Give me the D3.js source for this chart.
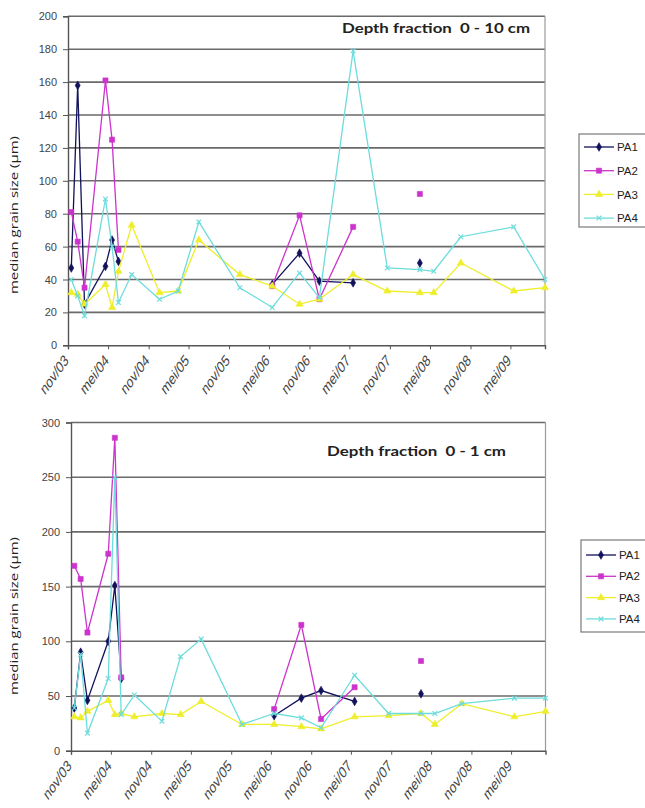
<!DOCTYPE html>
<html>
<head>
<meta charset="utf-8">
<script src="https://cdn.jsdelivr.net/npm/d3@7/dist/d3.min.js"></script>
<style>
  html, body { margin: 0; padding: 0; background: #fff; }
  svg { display: block; }
</style>
</head>
<body>
<svg id="chart" width="645" height="808"></svg>
<script>
// ---------------- DATA ----------------
const sampleDates = ["2003-11-16","2003-12-15","2004-01-15","2004-04-19","2004-05-19","2004-06-17",
  "2004-08-16","2004-12-20","2005-03-15","2005-06-17","2005-12-20","2006-05-16","2006-09-17",
  "2006-12-16","2007-05-18","2007-10-20","2008-03-16","2008-05-18","2008-09-18","2009-05-16","2009-10-05"];

const seriesNames = ["PA1", "PA2", "PA3", "PA4"];

// Depth fraction 0 - 10 cm
const PA1_10 = [47,158,25,48,64,51,null,null,null,null,null,37,56,39,38,null,50,null,null,null,null];
const PA2_10 = [81,63,35,161,125,58,null,null,null,null,null,36,79,28,72,null,92,null,null,null,null];
const PA3_10 = [32,31,25,37,23,45,73,32,33,64,43,36,25,28,43,33,32,32,50,33,35];
const PA4_10 = [40,30,18,89,60,26,43,28,33,75,35,23,44,29,179,47,46,45,66,72,40];

// Depth fraction 0 - 1 cm
const PA1_1 = [39,90,46,100,151,66,null,null,null,null,null,32,48,55,45,null,52,null,null,null,null];
const PA2_1 = [169,157,108,180,286,67,null,null,null,null,null,38,115,29,58,null,82,null,null,null,null];
const PA3_1 = [31,30,36,46,33,34,31,34,33,45,24,24,22,20,31,32,34,24,43,31,36];
const PA4_1 = [39,88,16,66,250,33,51,27,86,102,24,34,30,21,69,34,34,34,43,48,48];

const xTickDates = ["2003-11-01","2004-05-01","2004-11-01","2005-05-01","2005-11-01","2006-05-01",
  "2006-11-01","2007-05-01","2007-11-01","2008-05-01","2008-11-01","2009-05-01"];
const xTickLabels = ["nov/03","mei/04","nov/04","mei/05","nov/05","mei/06",
  "nov/06","mei/07","nov/07","mei/08","nov/08","mei/09"];
const xDomain = ["2003-11-01", "2009-10-05"];

const yTicks10 = [0,20,40,60,80,100,120,140,160,180,200];
const yTicks1 = [0,50,100,150,200,250,300];

// ---------------- STYLE ----------------
const colors = { PA1: "#12125c", PA2: "#cc33cc", PA3: "#eeee2a", PA4: "#6edcdc" };
const symbols = { PA1: d3.symbolDiamond, PA2: d3.symbolSquare, PA3: d3.symbolTriangle, PA4: d3.symbolX };
const symSize = { PA1: 22, PA2: 26, PA3: 22, PA4: 16 };

const parse = d3.utcParse("%Y-%m-%d");
const svg = d3.select("#chart");

function drawChart(cfg) {
  const g = svg.append("g");
  const x = d3.scaleUtc().domain(xDomain.map(parse)).range([cfg.left, cfg.right]);
  const y = d3.scaleLinear().domain([0, cfg.yMax]).range([cfg.bottom, cfg.top]);

  // gridlines
  g.append("g").selectAll("line").data(cfg.yTicks.filter(v => v > 0)).join("line")
    .attr("x1", cfg.left).attr("x2", cfg.right)
    .attr("y1", d => y(d)).attr("y2", d => y(d))
    .attr("stroke", "#6a6a6a").attr("stroke-width", 1.6);
  // right border
  g.append("line").attr("x1", cfg.right).attr("x2", cfg.right)
    .attr("y1", cfg.top).attr("y2", cfg.bottom)
    .attr("stroke", "#9a9a9a").attr("stroke-width", 1.2);

  // y axis
  const yAxis = d3.axisLeft(y).tickValues(cfg.yTicks).tickSize(5).tickPadding(6).tickFormat(d3.format("d"));
  const ya = g.append("g").attr("transform", `translate(${cfg.left},0)`).call(yAxis);
  ya.select(".domain").attr("stroke", "#555").attr("stroke-width", 1.4);
  ya.selectAll(".tick line").attr("stroke", "#555");
  ya.selectAll("text").attr("font-family", "Liberation Sans, Arial, sans-serif")
    .attr("font-size", 11).attr("fill", "#444");

  // x axis
  const xAxis = d3.axisBottom(x).tickValues(xTickDates.map(parse)).tickSize(4)
    .tickFormat((d, i) => xTickLabels[i]);
  const xa = g.append("g").attr("transform", `translate(0,${cfg.bottom})`).call(xAxis);
  xa.select(".domain").attr("stroke", "#555").attr("stroke-width", 1.4);
  xa.selectAll(".tick line").attr("stroke", "#555");
  xa.selectAll(".tick text")
    .attr("font-family", "Liberation Sans, Arial, sans-serif")
    .attr("font-size", 11.5).attr("fill", "#444")
    .attr("text-anchor", "end")
    .attr("x", 0).attr("y", 0).attr("dy", "0.35em")
    .attr("transform", "translate(-2,12) scale(1,1.4) rotate(-45)");

  // y title
  g.append("text")
    .attr("transform", `translate(${cfg.yTitleX},${cfg.yTitleY}) rotate(-90)`)
    .attr("text-anchor", "middle")
    .attr("font-family", "Open Sans, sans-serif").attr("font-size", 11).attr("fill", "#222")
    .attr("textLength", 158).attr("lengthAdjust", "spacingAndGlyphs")
    .text("median grain size (\u00b5m)");

  // chart title
  g.append("text")
    .attr("x", cfg.titleX).attr("y", cfg.titleY)
    .attr("font-family", "Lato, Open Sans, sans-serif").attr("font-weight", "bold")
    .attr("font-size", 13).attr("fill", "#222")
    .attr("textLength", cfg.titleLen).attr("lengthAdjust", "spacingAndGlyphs")
    .text(cfg.title);

  // series
  const dates = sampleDates.map(parse);
  seriesNames.forEach((name, si) => {
    const vals = cfg.series[si];
    const pts = dates.map((d, i) => ({ d, v: vals[i] }));
    const line = d3.line().defined(p => p.v != null).x(p => x(p.d)).y(p => y(p.v));
    g.append("path").datum(pts).attr("d", line)
      .attr("fill", "none").attr("stroke", colors[name]).attr("stroke-width", 1.3);
    const sym = d3.symbol().type(symbols[name]).size(symSize[name]);
    g.append("g").selectAll("path").data(pts.filter(p => p.v != null)).join("path")
      .attr("transform", p => `translate(${x(p.d)},${y(p.v)})`)
      .attr("d", sym)
      .attr("fill", name === "PA4" ? "none" : colors[name])
      .attr("stroke", colors[name])
      .attr("stroke-width", name === "PA4" ? 1.2 : 0.6);
  });

  // legend
  const lg = g.append("g");
  lg.append("rect").attr("x", cfg.legX).attr("y", cfg.legY).attr("width", 90).attr("height", cfg.legH)
    .attr("fill", "#fff").attr("stroke", "#7a7a7a").attr("stroke-width", 1.2);
  seriesNames.forEach((name, i) => {
    const ly = cfg.legY + cfg.legRow0 + i * cfg.legStep;
    lg.append("line").attr("x1", cfg.legX + 5).attr("x2", cfg.legX + 35)
      .attr("y1", ly).attr("y2", ly).attr("stroke", colors[name]).attr("stroke-width", 1.3);
    lg.append("path").attr("transform", `translate(${cfg.legX + 20},${ly})`)
      .attr("d", d3.symbol().type(symbols[name]).size(symSize[name]))
      .attr("fill", name === "PA4" ? "none" : colors[name])
      .attr("stroke", colors[name]).attr("stroke-width", name === "PA4" ? 1.2 : 0.6);
    lg.append("text").attr("x", cfg.legX + 38).attr("y", ly).attr("dy", "0.36em")
      .attr("font-family", "Liberation Sans, Arial, sans-serif").attr("font-size", 11.5)
      .attr("fill", "#222").text(name);
  });
}

drawChart({
  left: 68, right: 545, top: 16.3, bottom: 345.3, yMax: 200, yTicks: yTicks10,
  series: [PA1_10, PA2_10, PA3_10, PA4_10],
  title: "Depth fraction\u00a0\u00a00 - 10 cm", titleX: 342, titleY: 33, titleLen: 188,
  yTitleX: 18, yTitleY: 215,
  legX: 579, legY: 134, legH: 93, legRow0: 13, legStep: 23.7
});

drawChart({
  left: 71, right: 545.5, top: 422.5, bottom: 750.7, yMax: 300, yTicks: yTicks1,
  series: [PA1_1, PA2_1, PA3_1, PA4_1],
  title: "Depth fraction\u00a0\u00a00 - 1 cm", titleX: 327, titleY: 456, titleLen: 179,
  yTitleX: 18, yTitleY: 616,
  legX: 581, legY: 540, legH: 92, legRow0: 15, legStep: 21.3
});
</script>
</body>
</html>
